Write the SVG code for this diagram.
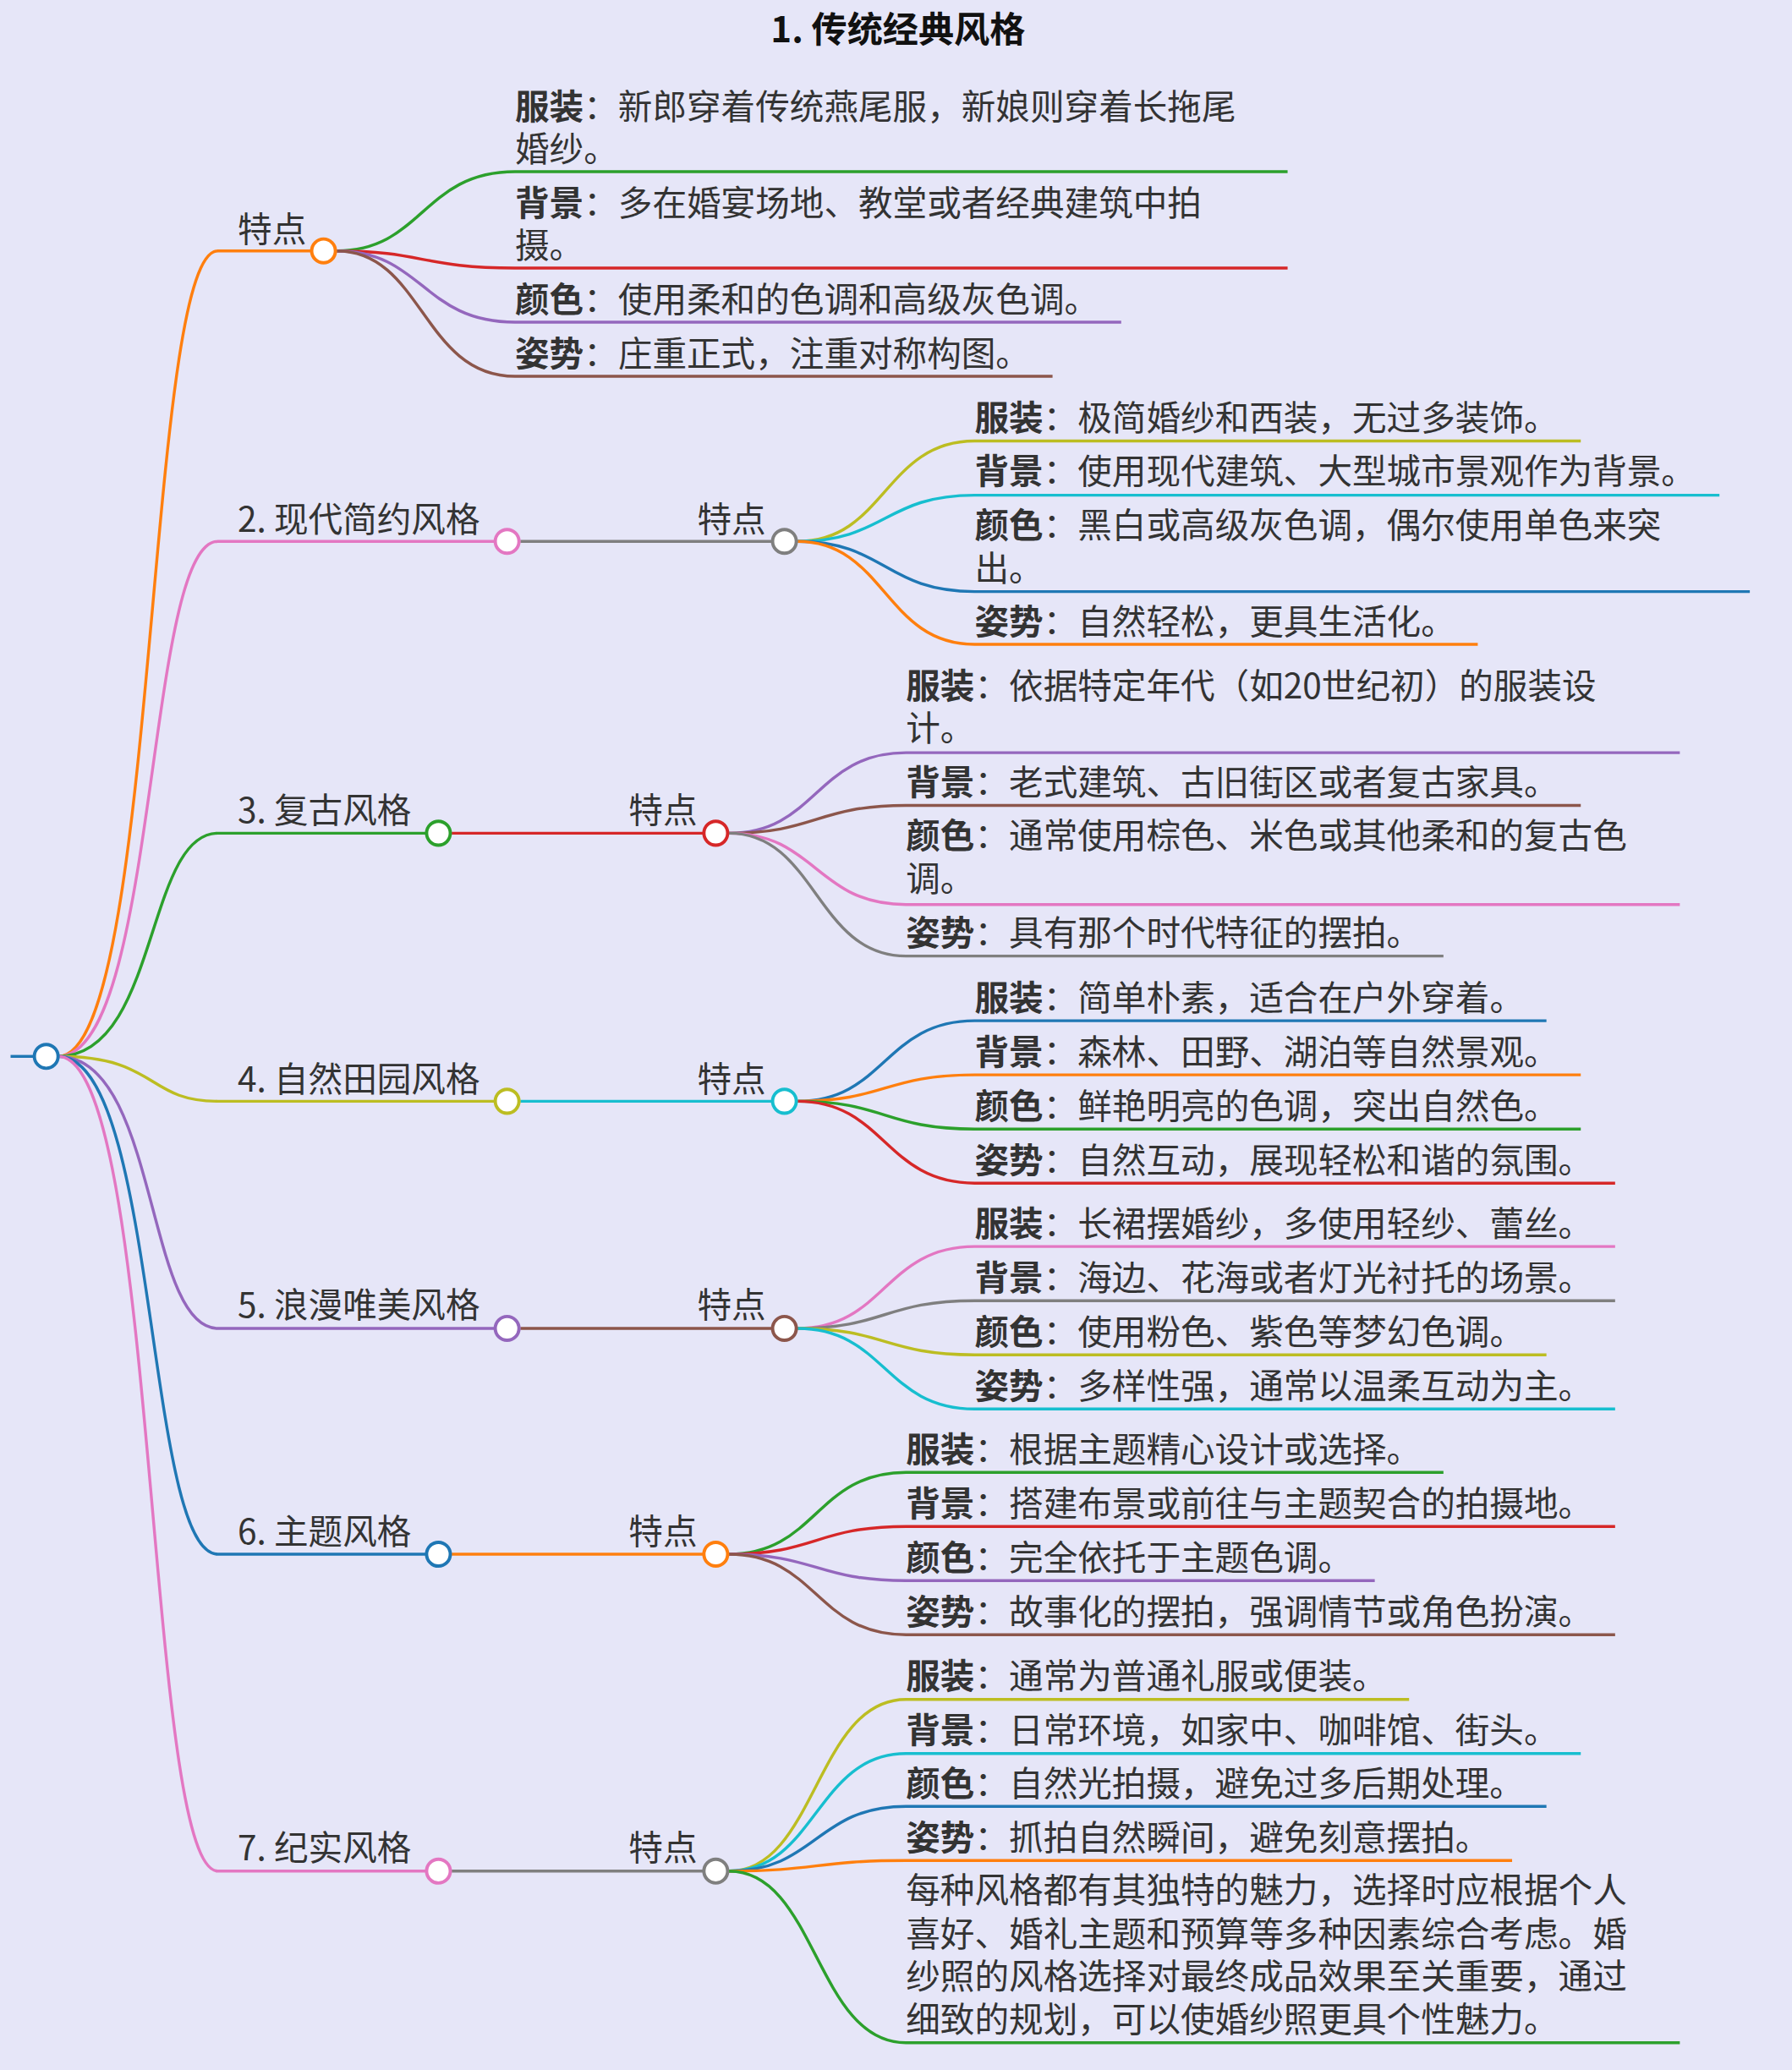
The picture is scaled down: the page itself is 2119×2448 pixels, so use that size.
<svg xmlns="http://www.w3.org/2000/svg" width="2119" height="2448" viewBox="0 0 2119 2448">
<style>
text{font-family:"Noto Sans CJK SC","Noto Sans",sans-serif;font-size:26px;fill:#333}
.b{font-weight:bold}
.t{font-weight:bold;font-size:27px;fill:#111}
path{fill:none;stroke-width:2.2}
circle{fill:#fff;stroke-width:2.5}
</style>
<rect width="2119" height="2448" fill="#e6e6f8"/>
<g transform="scale(1.5616)">
<text class="t" x="680" y="32" text-anchor="middle">1. 传统经典风格</text>
<g id="connectors">
<path d="M8,800H26" stroke="#1f77b4"/>
<path d="M44,800C120,800 110,190 165,190H245" stroke="#ff7f0e"/>
<path d="M44,800C120,800 110,410 165,410H384" stroke="#e377c2"/>
<path d="M44,800C120,800 110,631 165,631H332" stroke="#2ca02c"/>
<path d="M44,800C120,800 110,834 165,834H384" stroke="#bcbd22"/>
<path d="M44,800C120,800 110,1006 165,1006H384" stroke="#9467bd"/>
<path d="M44,800C120,800 110,1177 165,1177H332" stroke="#1f77b4"/>
<path d="M44,800C120,800 110,1417 165,1417H332" stroke="#e377c2"/>
<path d="M255,190C320,190 320,130 390,130H975" stroke="#2ca02c"/>
<path d="M255,190C320,190 320,203 390,203H975" stroke="#d62728"/>
<path d="M255,190C320,190 320,244 390,244H849" stroke="#9467bd"/>
<path d="M255,190C320,190 320,285 390,285H797" stroke="#8c564b"/>
<path d="M394,410H594" stroke="#7f7f7f"/>
<path d="M342,631H542" stroke="#d62728"/>
<path d="M394,834H594" stroke="#17becf"/>
<path d="M394,1006H594" stroke="#8c564b"/>
<path d="M342,1177H542" stroke="#ff7f0e"/>
<path d="M342,1417H542" stroke="#7f7f7f"/>
<path d="M604,410C670,410 670,334 738,334H1197" stroke="#bcbd22"/>
<path d="M604,410C670,410 670,375 738,375H1302" stroke="#17becf"/>
<path d="M604,410C670,410 670,448 738,448H1325" stroke="#1f77b4"/>
<path d="M604,410C670,410 670,488 738,488H1119" stroke="#ff7f0e"/>
<path d="M552,631C618,631 618,570 686,570H1272" stroke="#9467bd"/>
<path d="M552,631C618,631 618,610 686,610H1197" stroke="#8c564b"/>
<path d="M552,631C618,631 618,685 686,685H1272" stroke="#e377c2"/>
<path d="M552,631C618,631 618,724 686,724H1093" stroke="#7f7f7f"/>
<path d="M604,834C670,834 670,773 738,773H1171" stroke="#1f77b4"/>
<path d="M604,834C670,834 670,814 738,814H1197" stroke="#ff7f0e"/>
<path d="M604,834C670,834 670,855 738,855H1197" stroke="#2ca02c"/>
<path d="M604,834C670,834 670,896 738,896H1223" stroke="#d62728"/>
<path d="M604,1006C670,1006 670,944 738,944H1223" stroke="#e377c2"/>
<path d="M604,1006C670,1006 670,985 738,985H1223" stroke="#7f7f7f"/>
<path d="M604,1006C670,1006 670,1026 738,1026H1171" stroke="#bcbd22"/>
<path d="M604,1006C670,1006 670,1067 738,1067H1223" stroke="#17becf"/>
<path d="M552,1177C618,1177 618,1115 686,1115H1093" stroke="#2ca02c"/>
<path d="M552,1177C618,1177 618,1156 686,1156H1223" stroke="#d62728"/>
<path d="M552,1177C618,1177 618,1197 686,1197H1041" stroke="#9467bd"/>
<path d="M552,1177C618,1177 618,1238 686,1238H1223" stroke="#8c564b"/>
<path d="M552,1417C618,1417 618,1287 686,1287H1067" stroke="#bcbd22"/>
<path d="M552,1417C618,1417 618,1328 686,1328H1197" stroke="#17becf"/>
<path d="M552,1417C618,1417 618,1368 686,1368H1171" stroke="#1f77b4"/>
<path d="M552,1417C618,1417 618,1409 686,1409H1145" stroke="#ff7f0e"/>
<path d="M552,1417C618,1417 618,1547 686,1547H1272" stroke="#2ca02c"/>
</g>
<g id="root"><circle cx="35" cy="800" r="9" stroke="#1f77b4"/></g>
<g id="n1"><circle cx="245" cy="190" r="9" stroke="#ff7f0e"/><text x="180" y="183">特点</text></g>
<g id="n1a"><text x="390" y="90"><tspan class="b">服装</tspan>：新郎穿着传统燕尾服，新娘则穿着长拖尾</text><text x="390" y="122">婚纱。</text></g>
<g id="n1b"><text x="390" y="163"><tspan class="b">背景</tspan>：多在婚宴场地、教堂或者经典建筑中拍</text><text x="390" y="195">摄。</text></g>
<g id="n1c"><text x="390" y="236"><tspan class="b">颜色</tspan>：使用柔和的色调和高级灰色调。</text></g>
<g id="n1d"><text x="390" y="277"><tspan class="b">姿势</tspan>：庄重正式，注重对称构图。</text></g>
<g id="n2"><circle cx="384" cy="410" r="9" stroke="#e377c2"/><text x="180" y="403">2. 现代简约风格</text></g>
<g id="n2t"><circle cx="594" cy="410" r="9" stroke="#7f7f7f"/><text x="528" y="403">特点</text></g>
<g id="n2a"><text x="738" y="326"><tspan class="b">服装</tspan>：极简婚纱和西装，无过多装饰。</text></g>
<g id="n2b"><text x="738" y="366"><tspan class="b">背景</tspan>：使用现代建筑、大型城市景观作为背景。</text></g>
<g id="n2c"><text x="738" y="407"><tspan class="b">颜色</tspan>：黑白或高级灰色调，偶尔使用单色来突</text><text x="738" y="440">出。</text></g>
<g id="n2d"><text x="738" y="480"><tspan class="b">姿势</tspan>：自然轻松，更具生活化。</text></g>
<g id="n3"><circle cx="332" cy="631" r="9" stroke="#2ca02c"/><text x="180" y="623">3. 复古风格</text></g>
<g id="n3t"><circle cx="542" cy="631" r="9" stroke="#d62728"/><text x="476" y="623">特点</text></g>
<g id="n3a"><text x="686" y="529"><tspan class="b">服装</tspan>：依据特定年代（如20世纪初）的服装设</text><text x="686" y="561">计。</text></g>
<g id="n3b"><text x="686" y="602"><tspan class="b">背景</tspan>：老式建筑、古旧街区或者复古家具。</text></g>
<g id="n3c"><text x="686" y="642"><tspan class="b">颜色</tspan>：通常使用棕色、米色或其他柔和的复古色</text><text x="686" y="675">调。</text></g>
<g id="n3d"><text x="686" y="716"><tspan class="b">姿势</tspan>：具有那个时代特征的摆拍。</text></g>
<g id="n4"><circle cx="384" cy="834" r="9" stroke="#bcbd22"/><text x="180" y="827">4. 自然田园风格</text></g>
<g id="n4t"><circle cx="594" cy="834" r="9" stroke="#17becf"/><text x="528" y="827">特点</text></g>
<g id="n4a"><text x="738" y="765"><tspan class="b">服装</tspan>：简单朴素，适合在户外穿着。</text></g>
<g id="n4b"><text x="738" y="806"><tspan class="b">背景</tspan>：森林、田野、湖泊等自然景观。</text></g>
<g id="n4c"><text x="738" y="847"><tspan class="b">颜色</tspan>：鲜艳明亮的色调，突出自然色。</text></g>
<g id="n4d"><text x="738" y="888"><tspan class="b">姿势</tspan>：自然互动，展现轻松和谐的氛围。</text></g>
<g id="n5"><circle cx="384" cy="1006" r="9" stroke="#9467bd"/><text x="180" y="998">5. 浪漫唯美风格</text></g>
<g id="n5t"><circle cx="594" cy="1006" r="9" stroke="#8c564b"/><text x="528" y="998">特点</text></g>
<g id="n5a"><text x="738" y="936"><tspan class="b">服装</tspan>：长裙摆婚纱，多使用轻纱、蕾丝。</text></g>
<g id="n5b"><text x="738" y="977"><tspan class="b">背景</tspan>：海边、花海或者灯光衬托的场景。</text></g>
<g id="n5c"><text x="738" y="1018"><tspan class="b">颜色</tspan>：使用粉色、紫色等梦幻色调。</text></g>
<g id="n5d"><text x="738" y="1059"><tspan class="b">姿势</tspan>：多样性强，通常以温柔互动为主。</text></g>
<g id="n6"><circle cx="332" cy="1177" r="9" stroke="#1f77b4"/><text x="180" y="1169">6. 主题风格</text></g>
<g id="n6t"><circle cx="542" cy="1177" r="9" stroke="#ff7f0e"/><text x="476" y="1169">特点</text></g>
<g id="n6a"><text x="686" y="1107"><tspan class="b">服装</tspan>：根据主题精心设计或选择。</text></g>
<g id="n6b"><text x="686" y="1148"><tspan class="b">背景</tspan>：搭建布景或前往与主题契合的拍摄地。</text></g>
<g id="n6c"><text x="686" y="1189"><tspan class="b">颜色</tspan>：完全依托于主题色调。</text></g>
<g id="n6d"><text x="686" y="1230"><tspan class="b">姿势</tspan>：故事化的摆拍，强调情节或角色扮演。</text></g>
<g id="n7"><circle cx="332" cy="1417" r="9" stroke="#e377c2"/><text x="180" y="1409">7. 纪实风格</text></g>
<g id="n7t"><circle cx="542" cy="1417" r="9" stroke="#7f7f7f"/><text x="476" y="1409">特点</text></g>
<g id="n7a"><text x="686" y="1279"><tspan class="b">服装</tspan>：通常为普通礼服或便装。</text></g>
<g id="n7b"><text x="686" y="1320"><tspan class="b">背景</tspan>：日常环境，如家中、咖啡馆、街头。</text></g>
<g id="n7c"><text x="686" y="1360"><tspan class="b">颜色</tspan>：自然光拍摄，避免过多后期处理。</text></g>
<g id="n7d"><text x="686" y="1401"><tspan class="b">姿势</tspan>：抓拍自然瞬间，避免刻意摆拍。</text></g>
<g id="n7e"><text x="686" y="1441">每种风格都有其独特的魅力，选择时应根据个人</text><text x="686" y="1474">喜好、婚礼主题和预算等多种因素综合考虑。婚</text><text x="686" y="1506">纱照的风格选择对最终成品效果至关重要，通过</text><text x="686" y="1539">细致的规划，可以使婚纱照更具个性魅力。</text></g>
</g>
</svg>
